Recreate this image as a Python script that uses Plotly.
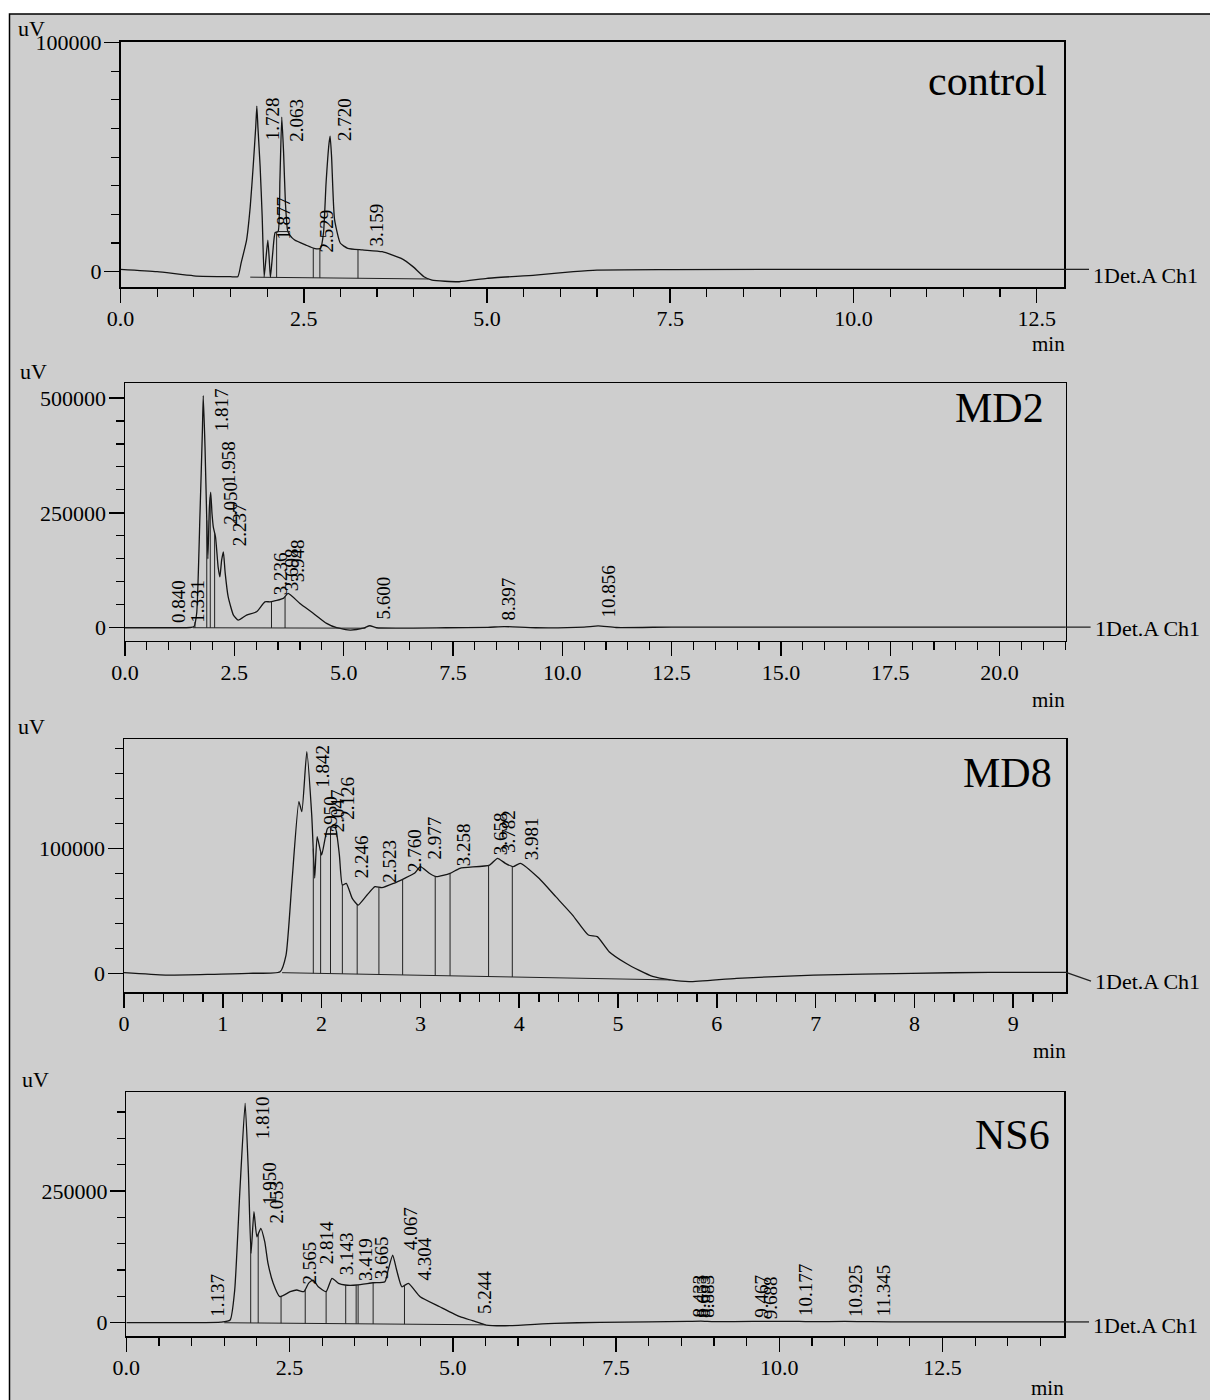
import numpy as np
import plotly.graph_objects as go

W, H = 1210, 1400

# ---------------- data (retention time in min, signal in uV) ----------------
control_t = [0.0, 0.5, 1.0, 1.5, 1.60, 1.645, 1.72, 1.77, 1.81, 1.845, 1.86, 1.875, 1.905, 1.933, 1.96,
             1.985, 2.01, 2.03, 2.045, 2.077, 2.11, 2.15, 2.175, 2.20, 2.225, 2.25, 2.28, 2.31, 2.376,
             2.53, 2.64, 2.73, 2.77, 2.805, 2.845, 2.86, 2.88, 2.92, 3.00, 3.10, 3.30, 3.57, 3.83, 3.99,
             4.14, 4.25, 4.62, 5.00, 5.66, 6.18, 6.50, 7.50, 10.0, 13.0]
control_uv = [1000, 0, -1800, -2200, -2200, 3700, 13800, 28400, 45900, 63300, 72300, 63000, 45900, 24000,
              -2200, 6000, 13800, 5000, -2500, 8200, 17100, 17500, 40000, 67500, 52000, 30000, 17900, 16000,
              13800, 11600, 10200, 10200, 17100, 38900, 56000, 59200, 50000, 22800, 12400, 10200, 9500, 8700,
              5800, 2200, -2200, -3700, -4400, -2900, -1500, 0, 700, 900, 1000, 1000]
control_base_t = [1.77, 4.20]
control_base_uv = [-2400, -3200]
control_drop_t = [1.96, 2.045, 2.13, 2.63, 2.72, 3.24]
control_labels = ["1.728", "2.063", "2.720", "1.877", "2.529", "3.159"]
control_label_t = [2.085, 2.404, 3.063, 2.22, 2.813, 3.495]
control_label_uv = [66700, 66250, 66250, 23200, 17800, 20400]

md2_t = [0, 1.0, 1.5, 1.58, 1.64, 1.715, 1.77, 1.79, 1.83, 1.87, 1.895, 1.93, 1.96, 1.99, 2.02, 2.07,
         2.13, 2.17, 2.21, 2.25, 2.29, 2.36, 2.48, 2.59, 2.78, 3.01, 3.20, 3.32, 3.62, 3.73, 4.00, 4.31,
         4.61, 4.84, 5.15, 5.45, 5.60, 5.75, 7.34, 8.30, 8.67, 9.39, 10.50, 10.82, 11.23, 12.50, 15.00, 21.60]
md2_uv = [0, 0, 500, 3000, 32000, 248000, 429000, 505000, 392800, 233700, 150000, 262600, 295000, 248000,
          219000, 197500, 132000, 110700, 147000, 165000, 120000, 67000, 27600, 16700, 27600, 34700, 56400,
          56400, 63800, 74600, 52900, 31200, 9500, 0, -5000, -1000, 4300, 0, 0, 1000, 2500, 0, 1500, 4000,
          500, 1500, 1500, 1500]
md2_base_t = [1.55, 5.50]
md2_base_uv = [0, -1000]
md2_drop_t = [1.60, 1.87, 1.95, 2.05, 3.35, 3.66]
md2_labels = ["0.840", "1.331", "1.817", "1.958", "2.050", "2.237", "3.236", "3.698", "3.948",
              "5.600", "8.397", "10.856"]
md2_label_t = [1.219, 1.64, 2.211, 2.367, 2.41, 2.607, 3.544, 3.796, 3.933, 5.923, 8.781, 11.068]
md2_label_uv = [56900, 58000, 474600, 359600, 270600, 222900, 118700, 127300, 146900, 63400, 63400, 78600]

md8_t = [0, 0.42, 1.26, 1.58, 1.64, 1.70, 1.77, 1.80, 1.85, 1.90, 1.93, 1.955, 2.00, 2.06, 2.10, 2.14,
         2.18, 2.21, 2.25, 2.31, 2.37, 2.46, 2.54, 2.61, 2.73, 2.84, 2.94, 3.00, 3.09, 3.16, 3.30, 3.40,
         3.70, 3.78, 3.86, 3.94, 4.01, 4.20, 4.37, 4.54, 4.70, 4.79, 4.91, 5.08, 5.21, 5.35, 5.53, 5.72,
         6.20, 6.98, 7.97, 8.76, 9.60]
md8_uv = [500, -1400, 0, 1300, 14600, 73300, 137300, 129300, 177300, 126600, 76200, 109300, 94600,
          116000, 117300, 116200, 94600, 70600, 72000, 60000, 54600, 62600, 69300, 68500, 72000, 76000,
          80000, 85300, 80000, 77300, 80000, 84000, 86600, 92000, 88000, 85300, 88000, 76000, 61300,
          46600, 30600, 29300, 17300, 8000, 2500, -2500, -5300, -6700, -4000, -1400, 0, 800, 800]
md8_base_t = [1.60, 5.53]
md8_base_uv = [500, -5300]
md8_drop_t = [1.916, 1.99, 2.09, 2.21, 2.36, 2.58, 2.82, 3.15, 3.30, 3.69, 3.93]
md8_labels = ["1.842", "1.950", "2.047", "2.126", "2.246", "2.523", "2.760", "2.977", "3.258",
              "3.658", "3.782", "3.981"]
md8_label_t = [2.001, 2.085, 2.159, 2.254, 2.406, 2.685, 2.935, 3.148, 3.434, 3.813, 3.89, 4.127]
md8_label_uv = [165800, 124200, 129800, 140200, 93400, 89400, 98600, 107800, 102600, 111800, 113400, 107800]

ns6_t = [0, 1.0, 1.45, 1.59, 1.66, 1.74, 1.82, 1.87, 1.91, 1.955, 2.00, 2.06, 2.12, 2.17, 2.25, 2.35,
         2.51, 2.61, 2.72, 2.79, 2.86, 2.94, 3.06, 3.15, 3.25, 3.35, 3.53, 3.78, 3.96, 4.01, 4.08, 4.14,
         4.22, 4.32, 4.50, 4.80, 5.11, 5.30, 5.51, 5.80, 6.56, 7.25, 8.00, 8.60, 8.80, 9.00, 9.60, 9.80,
         10.30, 10.50, 11.00, 11.40, 12.00, 14.50]
ns6_uv = [0, 0, 1000, 5100, 62000, 252000, 416500, 283600, 131700, 210700, 163200, 179200, 153800,
          112800, 74800, 49400, 58900, 62100, 58900, 74800, 81000, 68300, 58900, 84300, 74800, 71600,
          71600, 75900, 77900, 100000, 128500, 100000, 68300, 74800, 49400, 30400, 11400, 4000, -4400,
          -5700, -1100, 800, 1500, 2500, 3000, 2000, 2500, 2500, 2500, 2000, 2500, 2000, 1500, 1500]
ns6_base_t = [1.50, 5.50]
ns6_base_uv = [0, -4000]
ns6_drop_t = [1.905, 2.02, 2.37, 2.74, 3.06, 3.36, 3.52, 3.55, 3.78, 4.26]
ns6_labels = ["1.137", "1.810", "1.950", "2.053", "2.565", "2.814", "3.143", "3.419", "3.665",
              "4.067", "4.304", "5.244", "8.433", "8.653", "8.883", "9.467", "9.688", "10.177",
              "10.925", "11.345"]
ns6_label_t = [1.384, 2.089, 2.185, 2.30, 2.813, 3.069, 3.375, 3.655, 3.911, 4.345, 4.574, 5.478,
               8.763, 8.83, 8.89, 9.717, 9.87, 10.39, 11.16, 11.59]
ns6_label_uv = [52600, 389500, 265200, 229100, 114300, 152200, 131400, 120900, 123800, 177900, 121900,
                56400, 50700, 50700, 50700, 50700, 48000, 61700, 60200, 61700]

sample_names = ["control", "MD2", "MD8", "NS6"]
detector_label = "1Det.A Ch1"

# ---------------- layout (pixel geometry of each panel) ----------------
panels = [
    dict(t=control_t, uv=control_uv, bt=control_base_t, buv=control_base_uv, drops=control_drop_t,
         lab=control_labels, lt=control_label_t, luv=control_label_uv,
         left=120.5, right=1064, top=41.7, bottom=287, xr=[0, 12.872], yr=[-6700, 100400],
         xdt=2.5, xminor=0.5, xfmt=".1f", ydt=100000, yminor=12500,
         name_xy=(1049, 81), uv_xy=(16, 29), min_xy=(1067, 344), det_y=-1500),
    dict(t=md2_t, uv=md2_uv, bt=md2_base_t, buv=md2_base_uv, drops=md2_drop_t,
         lab=md2_labels, lt=md2_label_t, luv=md2_label_uv,
         left=125, right=1065.6, top=383.3, bottom=640.7, xr=[0, 21.51], yr=[-28200, 531900],
         xdt=2.5, xminor=0.5, xfmt=".1f", ydt=250000, yminor=50000,
         name_xy=(1046, 408), uv_xy=(18, 371), min_xy=(1067, 700), det_y=-2000),
    dict(t=md8_t, uv=md8_uv, bt=md8_base_t, buv=md8_base_uv, drops=md8_drop_t,
         lab=md8_labels, lt=md8_label_t, luv=md8_label_uv,
         left=124, right=1066, top=739.3, bottom=992.3, xr=[0, 9.534], yr=[-15200, 187200],
         xdt=1, xminor=0.2, xfmt="d", ydt=100000, yminor=20000,
         name_xy=(1054, 773), uv_xy=(16, 727), min_xy=(1068, 1051), det_y=-6200),
    dict(t=ns6_t, uv=ns6_uv, bt=ns6_base_t, buv=ns6_base_uv, drops=ns6_drop_t,
         lab=ns6_labels, lt=ns6_label_t, luv=ns6_label_uv,
         left=126.3, right=1064, top=1092.3, bottom=1336, xr=[0, 14.36], yr=[-25200, 437400],
         xdt=2.5, xminor=0.5, xfmt=".1f", ydt=250000, yminor=50000,
         name_xy=(1052, 1135), uv_xy=(20, 1079), min_xy=(1066, 1388), det_y=-4500),
]

SERIF = "Liberation Serif"
BG = "#cecece"
fig = go.Figure()
annotations = []
shapes = [dict(type="rect", xref="paper", yref="paper", x0=9.5 / W, x1=1.02, y0=-0.02, y1=1 - 14 / H,
               fillcolor=BG, line=dict(color="black", width=1.5), layer="below")]
layout = {}

for i, p in enumerate(panels, start=1):
    sx = "" if i == 1 else str(i)
    xa, ya = "x" + sx, "y" + sx
    # main trace
    fig.add_trace(go.Scatter(x=p["t"], y=p["uv"], xaxis=xa, yaxis=ya, mode="lines",
                             line=dict(color="#141414", width=1.3, shape="spline", smoothing=0.5),
                             hoverinfo="skip", showlegend=False))
    # integration baseline
    fig.add_trace(go.Scatter(x=p["bt"], y=p["buv"], xaxis=xa, yaxis=ya, mode="lines",
                             line=dict(color="#222222", width=1), hoverinfo="skip", showlegend=False))
    # peak drop lines
    dx, dy = [], []
    for d in p["drops"]:
        top = float(np.interp(d, p["t"], p["uv"]))
        bot = float(np.interp(d, p["bt"], p["buv"]))
        dx += [d, d, None]
        dy += [bot, top, None]
    if i == 1:
        dx += [2.13, 2.31, None]
        dy += [17500, 17500, None]
    fig.add_trace(go.Scatter(x=dx, y=dy, xaxis=xa, yaxis=ya, mode="lines",
                             line=dict(color="#222222", width=1), hoverinfo="skip", showlegend=False))

    pw = p["right"] - p["left"]
    layout["xaxis" + sx] = dict(
        domain=[p["left"] / W, p["right"] / W], range=p["xr"], anchor=ya, automargin=False,
        showline=True, mirror=True, linecolor="black", linewidth=1.5,
        ticks="outside", ticklen=14, tickwidth=1.5, tickcolor="black",
        tick0=0, dtick=p["xdt"], tickformat=p["xfmt"], ticklabelstandoff=-3,
        minor=dict(dtick=p["xminor"], ticks="outside", ticklen=8, tickwidth=1.2, tickcolor="black",
                   showgrid=False),
        showgrid=False, zeroline=False, fixedrange=True,
        tickfont=dict(family=SERIF, size=22, color="black"))
    layout["yaxis" + sx] = dict(
        domain=[1 - p["bottom"] / H, 1 - p["top"] / H], range=p["yr"], anchor=xa, automargin=False,
        showline=True, mirror=True, linecolor="black", linewidth=1.5,
        ticks="outside", ticklen=15, tickwidth=1.5, tickcolor="black",
        tick0=0, dtick=p["ydt"], tickformat="d", ticklabelstandoff=-2,
        minor=dict(dtick=p["yminor"], ticks="outside", ticklen=8, tickwidth=1.2, tickcolor="black",
                   showgrid=False),
        showgrid=False, zeroline=False, fixedrange=True,
        tickfont=dict(family=SERIF, size=22, color="black"))

    # peak retention-time labels (read bottom-to-top)
    for txt, lx, ly in zip(p["lab"], p["lt"], p["luv"]):
        annotations.append(dict(xref=xa, yref=ya, x=lx, y=ly, text=txt, textangle=-90, showarrow=False,
                                xanchor="center", yanchor="middle",
                                font=dict(family=SERIF, size=19, color="black")))
    # sample name
    nx, ny = p["name_xy"]
    annotations.append(dict(xref="paper", yref="paper", x=nx / W, y=1 - ny / H, text=sample_names[i - 1],
                            showarrow=False, xanchor="right", yanchor="middle",
                            font=dict(family=SERIF, size=42, color="black")))
    # uV / min unit labels
    ux, uy = p["uv_xy"]
    annotations.append(dict(xref="paper", yref="paper", x=ux / W, y=1 - uy / H, text="uV",
                            showarrow=False, xanchor="left", yanchor="middle",
                            font=dict(family=SERIF, size=22, color="black")))
    mx, my = p["min_xy"]
    annotations.append(dict(xref="paper", yref="paper", x=mx / W, y=1 - my / H, text="min",
                            showarrow=False, xanchor="right", yanchor="middle",
                            font=dict(family=SERIF, size=21, color="black")))
    # detector connector + label
    last = p["uv"][-1]
    end_y = p["det_y"] if i == 3 else last
    shapes.append(dict(type="line", xref=xa + " domain", yref=ya, x0=1.0, x1=1 + 25 / pw,
                       y0=last, y1=end_y, line=dict(color="#222222", width=1.3)))
    annotations.append(dict(xref=xa + " domain", yref=ya, x=1 + 27 / pw, y=p["det_y"], text=detector_label,
                            showarrow=False, xanchor="left", yanchor="middle",
                            font=dict(family=SERIF, size=22, color="black")))

fig.update_layout(width=W, height=H, margin=dict(l=0, r=0, t=0, b=0, pad=0, autoexpand=False),
                  autosize=False, paper_bgcolor="white", plot_bgcolor="rgba(0,0,0,0)",
                  showlegend=False, annotations=annotations, shapes=shapes, **layout)

fig.write_html("out.html", config={"displayModeBar": False, "staticPlot": True},
               post_script="document.body.style.margin='0';document.body.style.overflow='hidden';")
